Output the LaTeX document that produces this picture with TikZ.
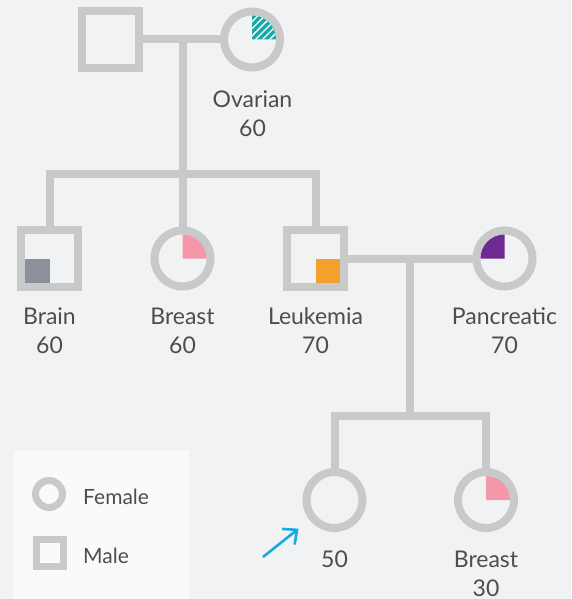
\documentclass[tikz,border=0pt]{standalone}
\usepackage{fontspec}
\setmainfont{Lato}
\usepackage{xcolor}
\usetikzlibrary{arrows.meta}
\usetikzlibrary{patterns.meta}
\usetikzlibrary{calc}
\definecolor{bgc}{HTML}{F1F2F4}
\definecolor{legbg}{HTML}{FAFAFA}
\definecolor{pedgray}{HTML}{C8C9CB}
\definecolor{txt}{HTML}{4D4D4D}
\definecolor{ovar}{HTML}{17A9A5}
\definecolor{brst}{HTML}{F497A9}
\definecolor{brn}{HTML}{8A9199}
\definecolor{leuk}{HTML}{F5A02D}
\definecolor{panc}{HTML}{6F2A91}
\definecolor{ptrblue}{HTML}{17A9E1}

\begin{document}
\begin{tikzpicture}[x=1pt,y=1pt,
	male/.style={draw=pedgray, line width=8pt, minimum size=57pt, inner sep=0pt},
	female/.style={circle, draw=pedgray, line width=8pt, minimum size=56pt, inner sep=0pt},
	famline/.style={draw=pedgray, line width=8pt, line join=miter},
	lbl/.style={align=center, text=txt, font=\fontsize{23}{29}\selectfont, inner sep=0pt},
	pointer/.style={draw=ptrblue, line width=2.6pt, -{Straight Barb[length=11pt,width=20pt]}}]
					\fill[bgc] (0,0) rectangle (571,-599);
					%legend box
					\fill[legbg] (14,-450) rectangle (189,-599);
					%people
					\node[male] (grandpa) at (110.5,-39.5) {};
					\node[female] (grandma) at (252,-39.5) {};
					\node[male] (uncle) at (49.5,-258.5) {};
					\node[female] (aunt) at (182.5,-258.5) {};
					\node[male] (dad) at (315.5,-258.5) {};
					\node[female] (mom) at (504.5,-258.5) {};
					\node[female] (me) at (334.5,-500) {};
					\node[female] (sister) at (486,-500) {};
					%couples
					\draw[famline] (grandpa) -- (grandma);
					\draw[famline] (dad) -- (mom);
					%children
					\coordinate (top1) at (182.5,-39.5);
					\coordinate (sib1) at (182.5,-173.5);
					\draw[famline] (top1) -- (aunt);
					\draw[famline] (uncle) -- (uncle |- sib1) -- (dad |- sib1) -- (dad);
					\coordinate (top2) at (410,-258.5);
					\coordinate (sib2) at (410,-415.5);
					\draw[famline] (top2) -- (sib2);
					\draw[famline] (me) -- (me |- sib2) -- (sister |- sib2) -- (sister);
					%cancer marks
					\fill[ovar] (grandma.center) -- ++(0,24) arc[start angle=90, end angle=0, radius=24] -- cycle;
					\fill[pattern={Lines[angle=45,distance=5pt,line width=1.3pt]}, pattern color=white] (grandma.center) -- ++(0,24) arc[start angle=90, end angle=0, radius=24] -- cycle;
					\fill[brst] (aunt.center) -- ++(0,24) arc[start angle=90, end angle=0, radius=24] -- cycle;
					\fill[brst] (sister.center) -- ++(0,24) arc[start angle=90, end angle=0, radius=24] -- cycle;
					\fill[panc] (mom.center) -- ++(0,24) arc[start angle=90, end angle=180, radius=24] -- cycle;
					\fill[brn] (uncle.center) rectangle ++(-24.5,-24.5);
					\fill[leuk] (dad.center) rectangle ++(24.5,-24.5);
					%labels
					\node[lbl] (grandmalbl) at (252.5,-114) {Ovarian\\60};
					\node[lbl] (unclelbl) at (49.5,-330.5) {Brain\\60};
					\node[lbl] (auntlbl) at (182.5,-330.5) {Breast\\60};
					\node[lbl] (dadlbl) at (315.5,-330.5) {Leukemia\\70};
					\node[lbl] (momlbl) at (504.5,-330.5) {Pancreatic\\70};
					\node[lbl] (melbl) at (334.5,-559) {50};
					\node[lbl] (sisterlbl) at (486,-573.5) {Breast\\30};
					%arrow
					\coordinate (ptr) at (263,-557);
					\draw[pointer, shorten >=14pt] (ptr) -- (me);
					%legend
					\node[female, minimum size=27pt, line width=7pt] (legf) at (49,-494) {};
					\node[male, minimum size=27pt, line width=7pt] (legm) at (49.5,-553) {};
					\node[lbl, anchor=west, font=\fontsize{21}{25}\selectfont] (legftxt) at (83,-497) {Female};
					\node[lbl, anchor=west, font=\fontsize{21}{25}\selectfont] (legmtxt) at (83,-556) {Male};
				\end{tikzpicture}
\end{document}
